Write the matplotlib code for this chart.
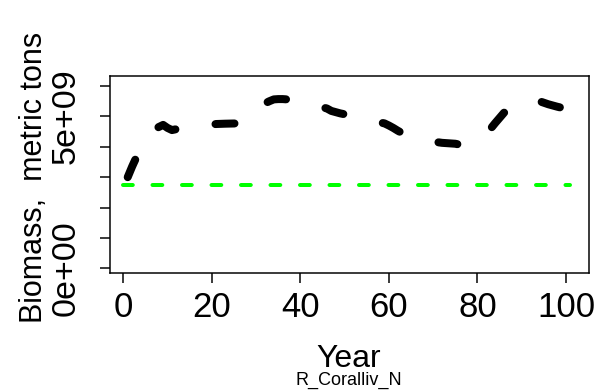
import matplotlib
matplotlib.use("Agg")
import matplotlib.pyplot as plt
import numpy as np

plt.rcParams['font.family'] = ['Liberation Sans', 'DejaVu Sans']
plt.rcParams['lines.scale_dashes'] = False

# Biomass trajectory (metric tons)
years = [1, 2, 3, 4, 5, 6, 7, 8, 9, 10, 11, 12, 13, 15, 18, 20, 21, 23, 26, 28, 30,
         32, 33, 34, 35, 36, 37, 38, 40, 42, 45, 46, 47, 48, 49, 50, 51, 53, 55, 58,
         59, 60, 61, 62, 63, 64, 66, 68, 71, 72, 73, 74, 75, 76, 77, 79, 81, 82, 83,
         84, 85, 86, 88, 90, 93, 94, 95, 96, 97, 98, 100, 101]
biomass = [3.00, 3.35, 3.67, 3.95, 4.20, 4.40, 4.55, 4.65, 4.72, 4.62, 4.55, 4.58, 4.62,
           4.66, 4.70, 4.73, 4.75, 4.76, 4.77, 4.90, 5.15,
           5.43, 5.50, 5.56, 5.57, 5.57, 5.56, 5.55, 5.50, 5.45, 5.30, 5.26, 5.18, 5.14,
           5.10, 5.07, 5.05, 4.98, 4.92, 4.80,
           4.77, 4.70, 4.62, 4.53, 4.45, 4.40, 4.30, 4.22, 4.15, 4.13, 4.12, 4.11, 4.10,
           4.07, 4.05, 4.15, 4.35, 4.50, 4.60,
           4.78, 4.95, 5.12, 5.30, 5.45, 5.52, 5.50, 5.45, 5.40, 5.36, 5.32, 5.25, 5.20]
biomass = [v * 1e9 for v in biomass]

# Reference level (green dashed line)
ref_years = [0, 101]
ref_level = [2.74e9, 2.74e9]

xticks = [0, 20, 40, 60, 80, 100]
yticks = [0, 1e9, 2e9, 3e9, 4e9, 5e9, 6e9]
ytick_labels = ['0e+00', '', '', '', '', '5e+09', '']

W, H = 600, 391
fig = plt.figure(figsize=(W / 100, H / 100), dpi=100)
L, R, T, B = 110, 589, 75.7, 273
ax = fig.add_axes([L / W, 1 - B / H, (R - L) / W, (B - T) / H])

px = 0.72  # points per pixel
ax.plot(years, biomass, color='black', lw=8 * px, solid_capstyle='round',
        dash_capstyle='round', dashes=(19 * px, 40.5 * px))
ax.plot(ref_years, ref_level, color='#00FF00', lw=4 * px,
        dash_capstyle='round', dashes=(9.8 * px, 19.7 * px))

ax.set_xlim(-3, 105.2)
ax.set_ylim(-0.155e9, 6.34e9)
ax.set_xticks(xticks)
ax.set_xticklabels([str(v) for v in xticks], fontsize=25)
ax.set_yticks(yticks)
ax.set_yticklabels(ytick_labels, fontsize=24.5, rotation=90, va='center')
ax.tick_params(axis='both', direction='out', length=10 * px, width=1.5 * px,
               color='black')
ax.tick_params(axis='x', pad=6)
ax.tick_params(axis='y', pad=13)
for s in ax.spines.values():
    s.set_linewidth(1.5 * px)
    s.set_color('black')

fig.text(349 / W, 1 - 366.7 / H, 'Year', ha='center', va='baseline', fontsize=23)
fig.text(349 / W, 1 - 385 / H, 'R_Coralliv_N', ha='center', va='baseline', fontsize=13)
fig.text(42 / W, 1 - 177.5 / H, 'Biomass,  metric tons', ha='center', va='baseline',
         rotation=90, fontsize=22, rotation_mode='anchor')

fig.savefig('out.png', dpi=100)
